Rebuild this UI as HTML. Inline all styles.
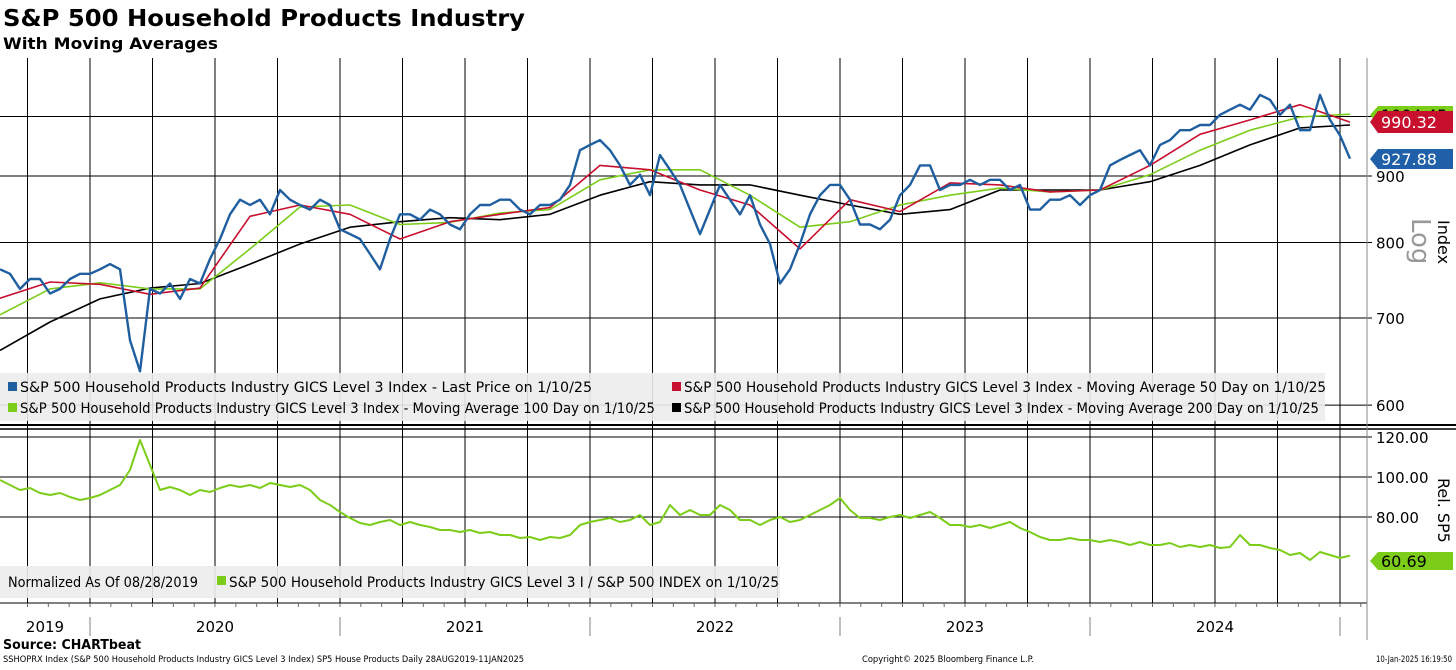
<!DOCTYPE html>
<html><head><meta charset="utf-8">
<style>
html,body{margin:0;padding:0;background:#fff;}
body{width:1456px;height:665px;overflow:hidden;font-family:"Liberation Sans",Tahoma,sans-serif;}
svg text{font-family:"DejaVu Sans","Liberation Sans",sans-serif;}
</style></head>
<body>
<svg id="chart" width="1456" height="665" viewBox="0 0 1456 665" xmlns="http://www.w3.org/2000/svg">
<text x="3" y="26" font-size="23" font-weight="bold" fill="#000" textLength="522" lengthAdjust="spacingAndGlyphs">S&amp;P 500 Household Products Industry</text>
<text x="3" y="49" font-size="16" font-weight="bold" fill="#000" textLength="215" lengthAdjust="spacingAndGlyphs">With Moving Averages</text>
<g id="grid"></g>
<g id="series"></g>
<g id="overlay"></g>
</svg>
<script>
const priceDates=[2019.64,2019.68,2019.72,2019.76,2019.80,2019.84,2019.88,2019.92,2019.96,2020.00,2020.04,2020.08,2020.12,2020.16,2020.20,2020.24,2020.28,2020.32,2020.36,2020.40,2020.44,2020.48,2020.52,2020.56,2020.60,2020.64,2020.68,2020.72,2020.76,2020.80,2020.84,2020.88,2020.92,2020.96,2021.00,2021.04,2021.08,2021.12,2021.16,2021.20,2021.24,2021.28,2021.32,2021.36,2021.40,2021.44,2021.48,2021.52,2021.56,2021.60,2021.64,2021.68,2021.72,2021.76,2021.80,2021.84,2021.88,2021.92,2021.96,2022.00,2022.04,2022.08,2022.12,2022.16,2022.20,2022.24,2022.28,2022.32,2022.36,2022.40,2022.44,2022.48,2022.52,2022.56,2022.60,2022.64,2022.68,2022.72,2022.76,2022.80,2022.84,2022.88,2022.92,2022.96,2023.00,2023.04,2023.08,2023.12,2023.16,2023.20,2023.24,2023.28,2023.32,2023.36,2023.40,2023.44,2023.48,2023.52,2023.56,2023.60,2023.64,2023.68,2023.72,2023.76,2023.80,2023.84,2023.88,2023.92,2023.96,2024.00,2024.04,2024.08,2024.12,2024.16,2024.20,2024.24,2024.28,2024.32,2024.36,2024.40,2024.44,2024.48,2024.52,2024.56,2024.60,2024.64,2024.68,2024.72,2024.76,2024.80,2024.84,2024.88,2024.92,2024.96,2025.00,2025.04];
const priceValues=[763,757,737,750,750,731,737,750,757,757,763,770,763,673,637,737,731,744,724,750,744,777,805,841,863,855,863,841,878,863,855,848,863,855,819,812,805,784,763,805,841,841,833,848,841,826,819,841,855,855,863,863,848,841,855,855,863,886,942,951,959,942,917,886,902,870,934,910,886,848,812,848,886,863,841,870,826,798,744,763,798,841,870,886,886,863,826,826,819,833,870,886,917,917,878,886,886,894,886,894,894,878,886,848,848,863,863,870,855,870,878,917,926,934,942,917,951,959,976,976,985,985,1003,1012,1021,1012,1039,1030,1003,1021,976,976,1039,994,967,928];
const maDates=[2019.64,2019.84,2020.04,2020.24,2020.44,2020.64,2020.84,2021.04,2021.24,2021.44,2021.64,2021.84,2022.04,2022.24,2022.44,2022.64,2022.84,2023.04,2023.24,2023.44,2023.64,2023.84,2024.04,2024.24,2024.44,2024.64,2024.84,2025.04];
const ma50=[725,746,743,730,738,838,855,841,805,830,841,851,917,910,878,855,791,863,845,889,886,875,878,917,969,994,1021,990];
const ma100=[704,737,745,737,737,791,852,855,826,829,843,848,894,910,910,870,822,830,855,870,881,875,878,902,942,976,999,1004];
const ma200=[661,695,724,738,744,770,798,822,830,836,833,841,870,891,886,886,870,855,841,848,878,878,878,891,917,951,980,985];
const relValues=[98.5,96,93.5,94.5,92,91,92,90,88.5,89.5,91,93.5,96,103.5,118.5,106,93.5,95,93.5,91,93.5,92.5,94.5,96,95,96,94.5,97,96,95,96,93.5,88.5,86,82.5,79.5,77,76,77.5,78.5,76,77.5,76,75,73.5,73.5,72.5,73.5,72,72.5,71,71,69.5,70,68.5,70,69.5,71,76,77.5,78.5,79.5,77.5,78.5,81,76,77.5,86,81,83.5,81,81,86,83.5,78.5,78.5,76,78.5,80,77.5,78.5,81,83.5,86,89.5,83.5,79.5,79.5,78.5,80,81,79.5,81,82.5,79.5,76,76,75,76,74.5,76,77.5,74.5,72.5,70,68.5,68.5,69.5,68.5,68.5,67.5,68.5,67.5,66,67.5,66,66,67,65,66,65,66,64.5,65,71,66,66,64.5,63.5,61,62,58.5,62.5,61,59.5,60.7];
const priceTicks=[600,700,800,900,1000];
const priceTickLabels=["600","700","800","900",""];
const relTicks=[80,100,120];
const relTickLabels=["80.00","100.00","120.00"];
const yearLabels=["2019","2020","2021","2022","2023","2024"];
const yearLabelDates=[2019.82,2020.5,2021.5,2022.5,2023.5,2024.5];
const yearBounds=[2020,2021,2022,2023,2024,2025];

const NS="http://www.w3.org/2000/svg";
const PR=1367;
function xs(t){return (t-2019.64)*250;}
function ys(v){return 176-565*Math.log(v/900);}
function yr(v){return 477-(v-100)*2.0;}
function mk(tag,attrs,parent,txt){const e=document.createElementNS(NS,tag);for(const k in attrs)e.setAttribute(k,attrs[k]);if(txt!==undefined)e.textContent=txt;parent.appendChild(e);return e;}
const grid=document.getElementById('grid'),ser=document.getElementById('series'),ov=document.getElementById('overlay');

for(let q=2019.75;q<2025.1;q+=0.25){
  const x=xs(q);if(x<0||x>PR)continue;
  const l=mk('line',{x1:x,x2:x,y1:58,y2:603,stroke:'#000','stroke-width':1},grid);
  
  
}
priceTicks.forEach((v,i)=>{
  const y=ys(v);
  const l=mk('line',{x1:0,x2:1372,y1:y,y2:y,stroke:'#000','stroke-width':1},grid);
  
  
  if(priceTickLabels[i]){
    const t=mk('text',{x:1376,y:y+6,'font-size':15,fill:'#000'},grid,priceTickLabels[i]);
    
    
  }
});
relTicks.forEach((v,i)=>{
  const y=yr(v);
  const l=mk('line',{x1:0,x2:1372,y1:y,y2:y,stroke:'#000','stroke-width':1},grid);
  
  
  const t=mk('text',{x:1376,y:y+6,'font-size':15,fill:'#000'},grid,relTickLabels[i]);
  
  
});
[[0,425,1456,425,2],[0,429,1456,429,1.5],[0,603,1367,603,1]].forEach(a=>{
  const l=mk('line',{x1:a[0],y1:a[1],x2:a[2],y2:a[3],stroke:'#000','stroke-width':a[4]},grid);
  
  
});
const rb=mk('line',{x1:PR,x2:PR,y1:58,y2:640,stroke:'#888','stroke-width':1},grid);


for(let m=2019.75;m<2025.1;m+=1/12){
  const x=xs(m);if(x<0||x>PR)continue;
  const l=mk('line',{x1:x,x2:x,y1:603,y2:607,stroke:'#666'},grid);
  
  
}
yearBounds.forEach(b=>{
  const x=xs(b);
  const l=mk('line',{x1:x,x2:x,y1:617,y2:636,stroke:'#aaa','stroke-width':1.5},grid);
  
  
});
yearLabels.forEach((s,i)=>{
  const t=mk('text',{x:xs(yearLabelDates[i]),y:632,'font-size':15,'text-anchor':'middle',fill:'#000'},grid,s);
  
  
});

function line(dates,vals,yf,color,w,name){
  const d=vals.map((v,i)=>(i?'L':'M')+xs(dates[i]).toFixed(1)+' '+yf(v).toFixed(1)).join(' ');
  const p=mk('path',{d:d,fill:'none',stroke:color,'stroke-width':w,'stroke-linejoin':'round'},ser);
  
  
}
line(maDates,ma200,ys,'#000',1.6,'ma200-line');
line(maDates,ma100,ys,'#7ccd1a',1.6,'ma100-line');
line(maDates,ma50,ys,'#c8102e',1.6,'ma50-line');
line(priceDates,priceValues,ys,'#1f5fa0',2.4,'price-line');
line(priceDates,relValues,yr,'#7ccd1a',2,'relative-line');

function tag(y,color,txt,name,h,tc){
  const g=mk('g',{},ov);
  
  
  mk('path',{d:`M1370 ${y} L1378 ${y-h/2} L1453 ${y-h/2} L1453 ${y+h/2} L1378 ${y+h/2} Z`,fill:color},g);
  mk('text',{x:1381,y:y+6,'font-size':16,fill:tc},g,txt);
}
tag(115,'#7ccd1a','1004.45','ma100-value-tag',18,'#000');
tag(122,'#c8102e','990.32','ma50-value-tag',22,'#fff');
tag(159,'#2060a8','927.88','price-value-tag',20,'#fff');
tag(561,'#7ccd1a','60.69','rel-value-tag',18,'#000');

const lg=mk('rect',{x:0,y:373,width:1325,height:48,fill:'#ececec','fill-opacity':0.9},ov);


const legItems=[[8,392,'#1f5fa0','S&P 500 Household Products Industry GICS Level 3 Index - Last Price on 1/10/25',572],[672,392,'#c8102e','S&P 500 Household Products Industry GICS Level 3 Index - Moving Average 50 Day on 1/10/25',642],[8,413,'#7ccd1a','S&P 500 Household Products Industry GICS Level 3 Index - Moving Average 100 Day on 1/10/25',635],[672,413,'#000','S&P 500 Household Products Industry GICS Level 3 Index - Moving Average 200 Day on 1/10/25',635]];
legItems.forEach(it=>{
  const g=mk('g',{},ov);
  
  
  mk('rect',{x:it[0],y:it[1]-10,width:9,height:9,fill:it[2]},g);
  mk('text',{x:it[0]+12,y:it[1],'font-size':14.3,fill:'#000',textLength:it[4],lengthAdjust:'spacingAndGlyphs'},g,it[3]);
});
const lg2=mk('rect',{x:0,y:566,width:780,height:32,fill:'#ececec','fill-opacity':0.9},ov);


const t1=mk('text',{x:8,y:587,'font-size':14.3,fill:'#000',textLength:190,lengthAdjust:'spacingAndGlyphs'},ov,'Normalized As Of 08/28/2019');


const g2=mk('g',{},ov);


mk('rect',{x:217,y:576,width:9,height:9,fill:'#7ccd1a'},g2);
mk('text',{x:229,y:587,'font-size':14.3,fill:'#000',textLength:550,lengthAdjust:'spacingAndGlyphs'},g2,'S&P 500 Household Products Industry GICS Level 3 I / S&P 500 INDEX on 1/10/25');

const lgT=mk('text',{x:0,y:0,'font-size':26,fill:'#999',transform:'translate(1412,218) rotate(90)'},ov,'Log');


const ix=mk('text',{x:0,y:0,'font-size':16,fill:'#000',transform:'translate(1438,220) rotate(90)'},ov,'Index');


const rs=mk('text',{x:0,y:0,'font-size':16,fill:'#000',transform:'translate(1438,478) rotate(90)'},ov,'Rel. SP5');



const src=mk('text',{x:3,y:649,'font-size':13,'font-weight':'bold',fill:'#000',textLength:138,lengthAdjust:'spacingAndGlyphs'},ov,'Source: CHARTbeat');


const f1=mk('text',{x:3,y:662,'font-size':8.5,fill:'#000',textLength:521,lengthAdjust:'spacingAndGlyphs'},ov,'SSHOPRX Index (S&P 500 Household Products Industry GICS Level 3 Index) SP5 House Products  Daily 28AUG2019-11JAN2025');


const f2=mk('text',{x:862,y:662,'font-size':8.5,fill:'#000',textLength:172,lengthAdjust:'spacingAndGlyphs'},ov,'Copyright© 2025 Bloomberg Finance L.P.');


const f3=mk('text',{x:1376,y:662,'font-size':8.5,fill:'#000',textLength:76,lengthAdjust:'spacingAndGlyphs'},ov,'10-Jan-2025 16:19:50');


</script>
</body></html>
